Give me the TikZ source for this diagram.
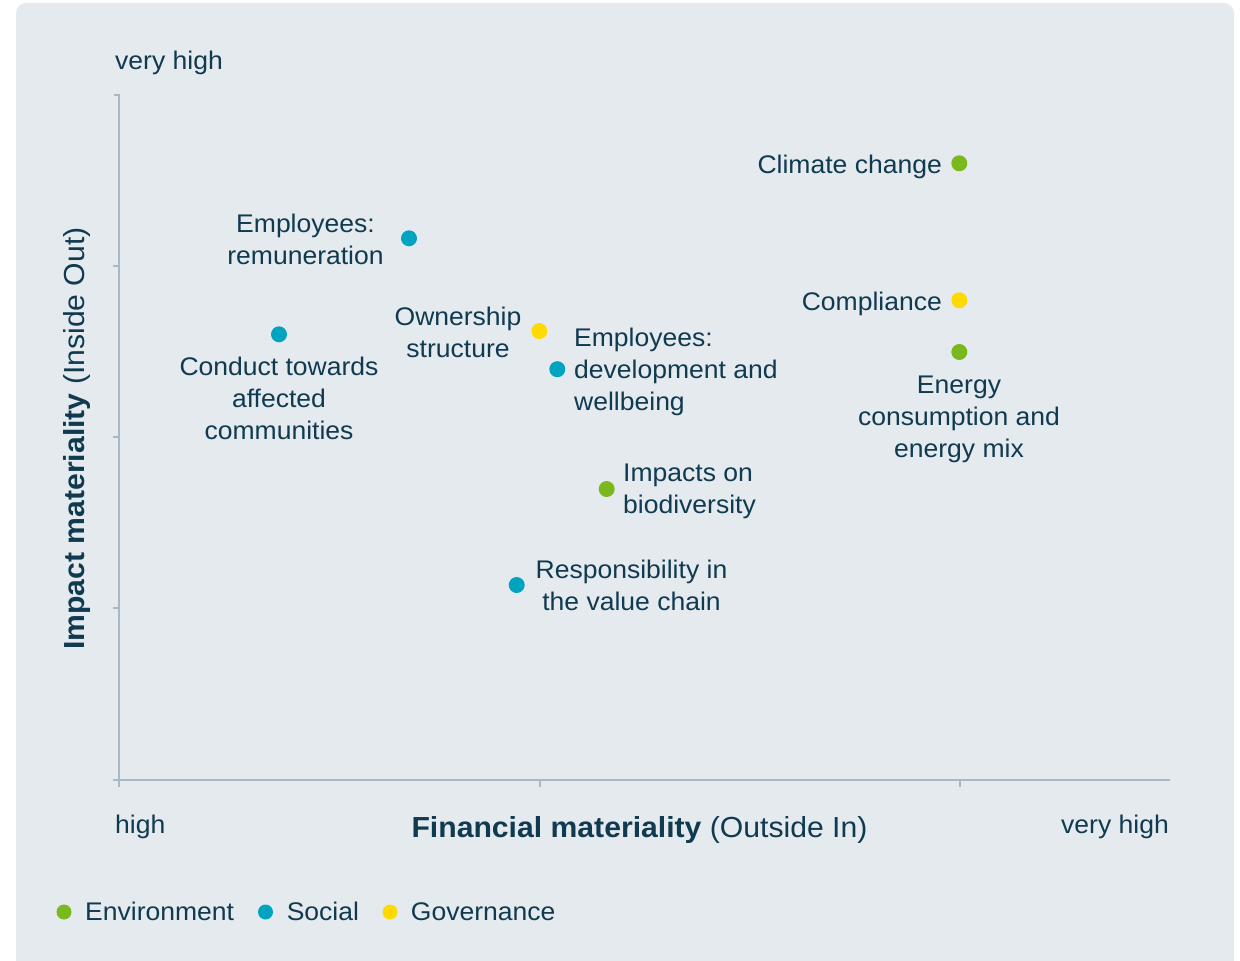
\documentclass[tikz,border=0pt]{standalone}
\usepackage{fontspec}
\setmainfont[FakeStretch=1.04]{Liberation Sans}
\definecolor{bg}{RGB}{229,234,239}
\definecolor{axisc}{RGB}{168,185,197}
\definecolor{txt}{RGB}{16,58,79}
\definecolor{env}{RGB}{122,185,30}
\definecolor{soc}{RGB}{0,163,192}
\definecolor{gov}{RGB}{255,218,0}
\begin{document}
\begin{tikzpicture}[x=1pt,y=-1pt,
  dot/.style={circle,inner sep=0pt,minimum size=16pt},
  envdot/.style={dot,fill=env},
  socdot/.style={dot,fill=soc},
  govdot/.style={dot,fill=gov},
  lbl/.style={font=\fontsize{25.5}{32}\selectfont,text=txt,inner sep=0pt,align=center},
  lbll/.style={lbl,align=left},
  ttl/.style={font=\fontsize{29}{34}\selectfont,text=txt,inner sep=0pt},
  axisline/.style={draw=axisc,line width=2.5pt}]
\useasboundingbox (0,0) rectangle (1240,961);
\fill[white] (0,0) rectangle (1240,961);
\begin{scope}
\clip (0,0) rectangle (1240,960);
\fill[bg,rounded corners=10pt] (16,3) rectangle (1234,1000);
\end{scope}
% axes
\draw[axisline] (114,95) -- (119,95) -- (119,787);
\draw[axisline] (113,780) -- (1170,780);
\foreach \yy in {266,437,608} \draw[axisline] (113,\yy) -- (119,\yy);
\foreach \xx in {540,960} \draw[axisline] (\xx,780) -- (\xx,787);
% axis texts
\node[lbl,anchor=base west] (ytop) at (115,69) {very high};
\node[lbl,anchor=base west] (xlow) at (115,833) {high};
\node[lbl,anchor=base east] (xhigh) at (1169,833) {very high};
\node[ttl,anchor=base] (xtitle) at (639.5,837) {\bfseries Financial materiality \mdseries(Outside In)};
\node[ttl,rotate=90] (ytitle) at (77,438.5) {\bfseries Impact materiality \mdseries(Inside Out)};
% data points
\node[envdot] (climate) at (959.3,163.3) {};
\node[lbl,anchor=base east] (climatel) at (942,173) {Climate change};
\node[govdot] (compl) at (959.3,300.3) {};
\node[lbl,anchor=base east] (compll) at (942,310) {Compliance};
\node[envdot] (energy) at (959.3,352) {};
\node[lbl] (energyl) at (959,419) {Energy\\consumption and\\energy mix};
\node[socdot] (remun) at (409,238.3) {};
\node[lbl] (remunl) at (305.5,239.3) {Employees:\\remuneration};
\node[socdot] (conduct) at (279,334.3) {};
\node[lbl] (conductl) at (279,398.5) {Conduct towards\\affected\\communities};
\node[govdot] (owner) at (539.3,331) {};
\node[lbl] (ownerl) at (458,332.5) {Ownership\\structure};
\node[socdot] (dev) at (557.3,369.2) {};
\node[lbll,anchor=west] (devl) at (574,371.9) {Employees:\\development and\\wellbeing};
\node[envdot] (bio) at (606.7,489) {};
\node[lbll,anchor=west] (biol) at (623,491.5) {Impacts on\\biodiversity};
\node[socdot] (resp) at (516.7,585) {};
\node[lbl] (respl) at (631.5,585.8) {Responsibility in\\the value chain};
% legend
\node[envdot,minimum size=15pt] (legenv) at (64,912) {};
\node[lbl,anchor=base west] (legenvl) at (85,920.7) {Environment};
\node[socdot,minimum size=15pt] (legsoc) at (265.5,912) {};
\node[lbl,anchor=base west] (legsocl) at (286.6,920.7) {Social};
\node[govdot,minimum size=15pt] (leggov) at (390,912) {};
\node[lbl,anchor=base west] (leggovl) at (410.7,920.7) {Governance};
\end{tikzpicture}
\end{document}
